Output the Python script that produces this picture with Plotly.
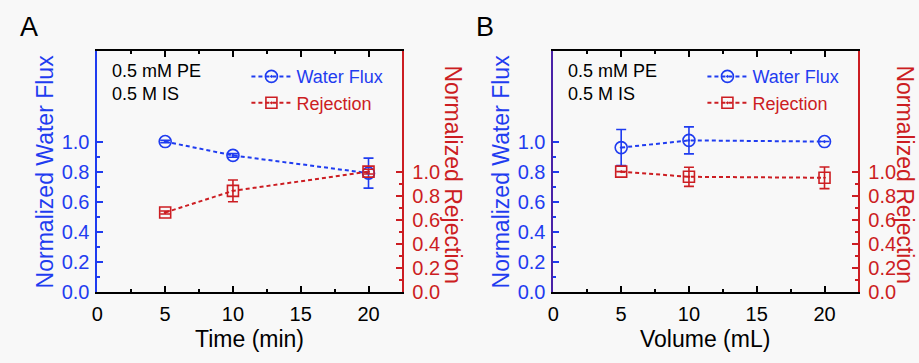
import plotly.graph_objects as go

# ---- data ----
x_time = [5, 10, 20]
flux_a = [1.0, 0.908, 0.79]
flux_a_err = [0.008, 0.012, 0.10]
rej_a = [0.66, 0.84, 1.0]
rej_a_err = [0.012, 0.09, 0.02]

x_vol = [5, 10, 20]
flux_b = [0.96, 1.008, 1.0]
flux_b_err = [0.12, 0.09, 0.0]
rej_b = [1.0, 0.957, 0.949]
rej_b_err = [0.0, 0.08, 0.09]

x_ticks = [0, 5, 10, 15, 20]
x_minor = [2.5, 7.5, 12.5, 17.5, 22.5]
y_ticks = [0.0, 0.2, 0.4, 0.6, 0.8, 1.0]
y_minor = [0.1, 0.3, 0.5, 0.7, 0.9]
y_ticklabels = ["0.0", "0.2", "0.4", "0.6", "0.8", "1.0"]

BLUE = "#1f3cf0"
RED = "#cc1d22"
FONT = "Arial, 'Liberation Sans', sans-serif"

fig = go.Figure()

def add_panel(xs, flux, ferr, rej, rerr, xa, ya_l, ya_r, leg):
    fig.add_trace(go.Scatter(
        x=xs, y=flux, mode="lines+markers",
        name='<span style="color:%s">Water Flux</span>' % BLUE,
        line=dict(color=BLUE, width=2, dash="4px,3px"),
        marker=dict(symbol="circle-open-dot", size=12, color=BLUE,
                    line=dict(width=1.6, color=BLUE)),
        error_y=dict(type="data", array=ferr, color=BLUE, thickness=1.6, width=5),
        xaxis=xa, yaxis=ya_l, legend=leg))
    fig.add_trace(go.Scatter(
        x=xs, y=rej, mode="lines+markers",
        name='<span style="color:%s">Rejection</span>' % RED,
        line=dict(color=RED, width=2, dash="4px,3px"),
        marker=dict(symbol="square-open-dot", size=11, color=RED,
                    line=dict(width=1.6, color=RED)),
        error_y=dict(type="data", array=rerr, color=RED, thickness=1.6, width=5),
        xaxis=xa, yaxis=ya_r, legend=leg))

add_panel(x_time, flux_a, flux_a_err, rej_a, rej_a_err, "x", "y", "y2", "legend")
add_panel(x_vol, flux_b, flux_b_err, rej_b, rej_b_err, "x2", "y3", "y4", "legend2")

yd = [62 / 363, 310 / 363]
dA = [92 / 919, 399 / 919]
dB = [551 / 919, 858 / 919]

def xaxis(domain, anchor):
    return dict(domain=domain, anchor=anchor, range=[0, 22.5],
                tickvals=x_ticks, ticktext=[str(v) for v in x_ticks],
                ticks="inside", ticklen=6, tickwidth=1.5, tickcolor="black",
                minor=dict(tickvals=x_minor, ticks="inside", ticklen=3,
                           tickwidth=1.5, tickcolor="black"),
                showline=True, linecolor="black", linewidth=1.8, mirror="ticks",
                showgrid=False, zeroline=False,
                tickfont=dict(family=FONT, size=20, color="black"),
                ticklabelstandoff=3)

def yleft(anchor, color, linecolor):
    return dict(domain=yd, anchor=anchor, range=[0, 1.6],
                tickvals=y_ticks, ticktext=y_ticklabels,
                ticks="inside", ticklen=6, tickwidth=1.5, tickcolor=color,
                minor=dict(tickvals=y_minor, ticks="inside", ticklen=3,
                           tickwidth=1.5, tickcolor=color),
                showline=True, linecolor=linecolor, linewidth=1.8,
                showgrid=False, zeroline=False,
                tickfont=dict(family=FONT, size=20, color=color),
                ticklabelstandoff=2)

def yright(anchor, overlay):
    return dict(domain=yd, anchor=anchor, overlaying=overlay, side="right",
                range=[0, 2.0], tickvals=y_ticks, ticktext=y_ticklabels,
                ticks="inside", ticklen=6, tickwidth=1.5, tickcolor=RED,
                minor=dict(tickvals=y_minor, ticks="inside", ticklen=3,
                           tickwidth=1.5, tickcolor=RED),
                showline=True, linecolor=RED, linewidth=1.8,
                showgrid=False, zeroline=False,
                tickfont=dict(family=FONT, size=20, color=RED),
                ticklabelstandoff=4)

annos = []
def panel_text(letter, x0, xtitle, right_x):
    W = 919.0
    H = 363.0
    annos.append(dict(text=letter, x=x0 / W, y=1 - 28 / H, xref="paper", yref="paper",
                      xanchor="left", yanchor="middle", showarrow=False,
                      font=dict(family=FONT, size=27, color="black")))
    annos.append(dict(text="0.5 mM PE<br>0.5 M IS", x=(x0 + 93) / W, y=1 - 61 / H,
                      xref="paper", yref="paper", xanchor="left", yanchor="top",
                      align="left", showarrow=False,
                      font=dict(family=FONT, size=18, color="black")))
    annos.append(dict(text="Normalized Water Flux", x=(x0 + 27) / W, y=1 - 177 / H,
                      xref="paper", yref="paper", xanchor="center", yanchor="middle",
                      textangle=-90, showarrow=False,
                      font=dict(family=FONT, size=23, color=BLUE)))
    annos.append(dict(text="Normalized Rejection", x=right_x / W, y=1 - 180 / H,
                      xref="paper", yref="paper", xanchor="center", yanchor="middle",
                      textangle=90, showarrow=False,
                      font=dict(family=FONT, size=23, color=RED)))
    annos.append(dict(text=xtitle, x=(x0 + 233) / W, y=1 - 350 / H,
                      xref="paper", yref="paper", xanchor="center", yanchor="middle",
                      showarrow=False,
                      font=dict(family=FONT, size=23, color="black")))

panel_text("A", 12, "Time (min)", 450)
panel_text("B", 471, "Volume (mL)", 905)

fig.update_layout(
    width=919, height=363,
    margin=dict(l=0, r=0, t=0, b=0),
    paper_bgcolor="#f8f8f8", plot_bgcolor="#f8f8f8",
    font=dict(family=FONT),
    xaxis=xaxis(dA, "y"),
    yaxis=yleft("x", BLUE, BLUE),
    yaxis2=yright("x", "y"),
    xaxis2=xaxis(dB, "y3"),
    yaxis3=yleft("x2", BLUE, "#4a22a8"),
    yaxis4=yright("x2", "y3"),
    legend=dict(x=242 / 919, y=1 - 60 / 363, xanchor="left", yanchor="top",
                bgcolor="rgba(0,0,0,0)", font=dict(family=FONT, size=18),
                itemwidth=40, tracegroupgap=0),
    legend2=dict(x=701 / 919, y=1 - 60 / 363, xanchor="left", yanchor="top",
                 bgcolor="rgba(0,0,0,0)", font=dict(family=FONT, size=18),
                 itemwidth=40, tracegroupgap=0),
    annotations=annos,
    showlegend=True,
)

fig.write_html(
    "out.html",
    config={"displayModeBar": False},
    post_script="document.body.style.margin='0';document.body.style.overflow='hidden';"
                "document.body.style.background='#f8f8f8';",
)
